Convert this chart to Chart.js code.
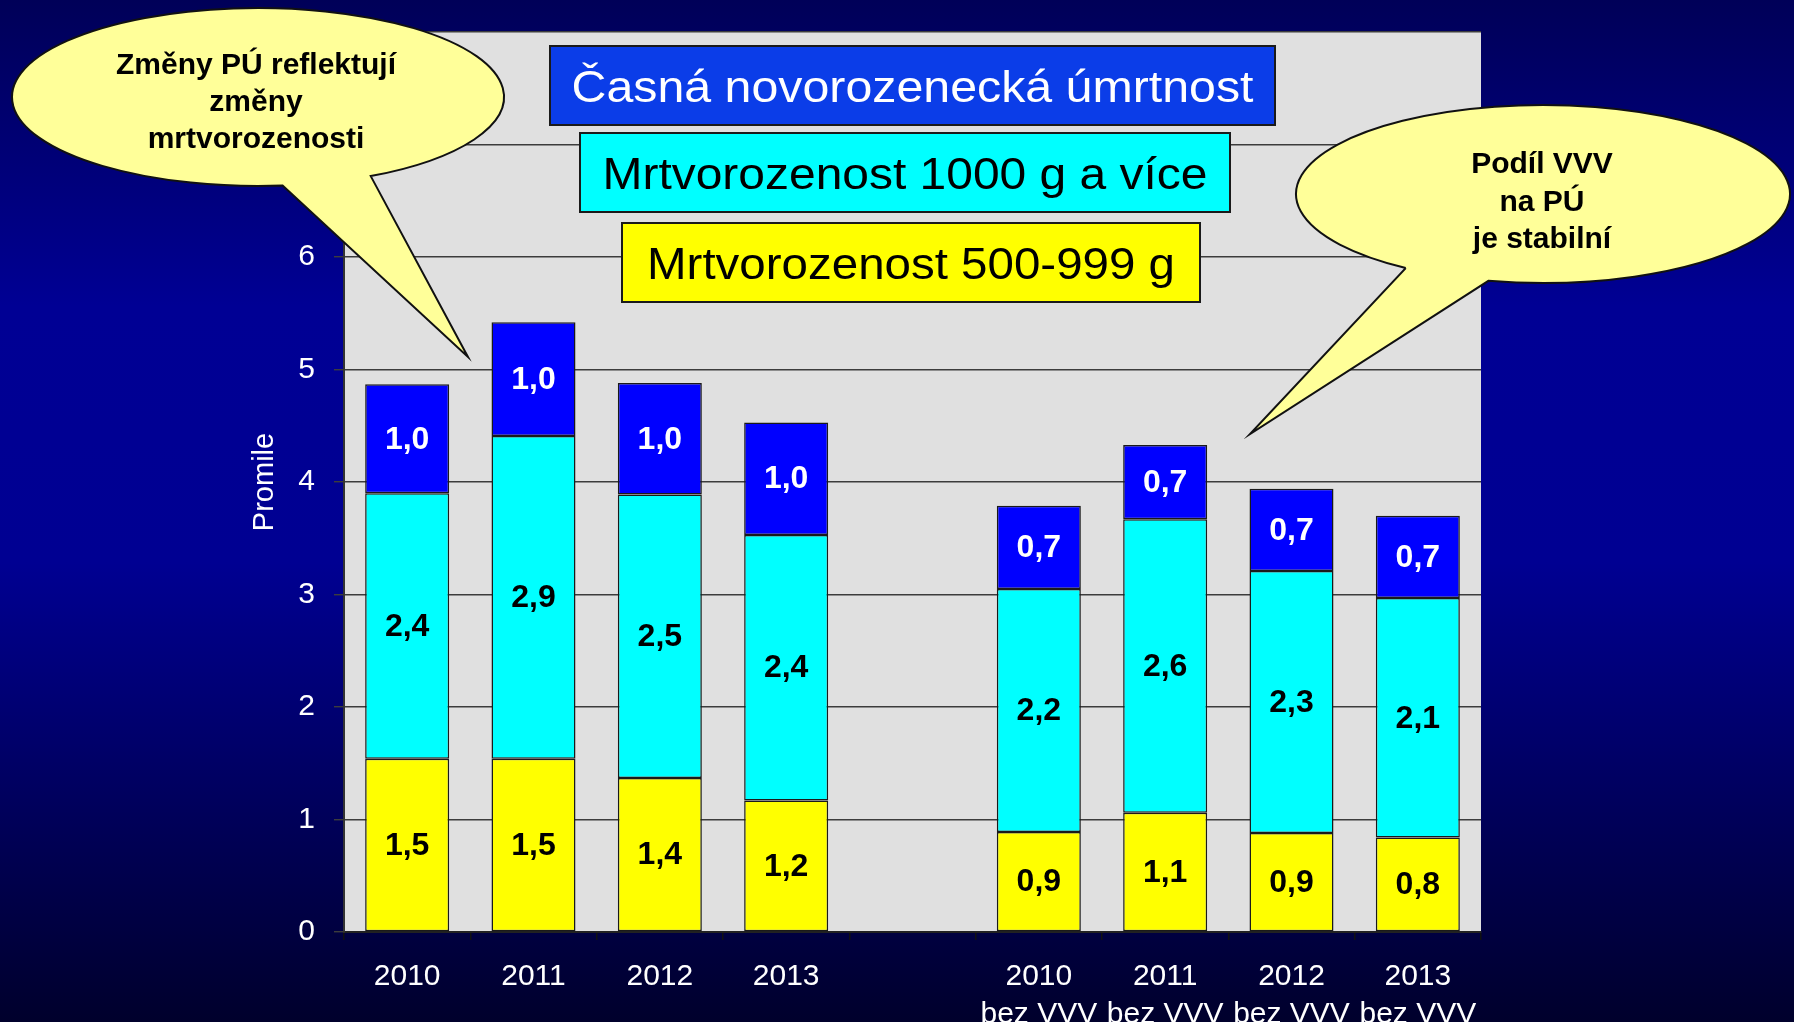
<!DOCTYPE html>
<html>
<head>
<meta charset="utf-8">
<script src="https://cdn.jsdelivr.net/npm/chart.js@4/dist/chart.umd.min.js"></script>
<style>
html,body{margin:0;padding:0;overflow:hidden;background:#000060;}
canvas{display:block;}
</style>
</head>
<body>
<canvas id="c" width="1794" height="1022"></canvas>
<script>
// ---- data ----
const categories = [['2010'], ['2011'], ['2012'], ['2013'], [''], ['2010', 'bez VVV'], ['2011', 'bez VVV'], ['2012', 'bez VVV'], ['2013', 'bez VVV']];
const seriesNames = ['Mrtvorozenost 500-999 g', 'Mrtvorozenost 1000 g a více', 'Časná novorozenecká úmrtnost'];
const still500to999 = [1.54, 1.54, 1.37, 1.17, null, 0.89, 1.06, 0.88, 0.84];
const still1000plus = [2.36, 2.87, 2.52, 2.36, null, 2.16, 2.61, 2.33, 2.13];
const earlyNeonatal = [0.97, 1.01, 0.99, 1.00, null, 0.74, 0.66, 0.73, 0.73];
const yTickMax = 6;
const yAxisTitle = 'Promile';
const calloutLeft = ['Změny PÚ reflektují', 'změny', 'mrtvorozenosti'];
const calloutRight = ['Podíl VVV', 'na PÚ', 'je stabilní'];

const FONT = "'Liberation Sans', Arial, sans-serif";

const bgPlugin = {
  id: 'bg',
  beforeDraw(chart) {
    const ctx = chart.ctx, a = chart.chartArea;
    const g = ctx.createLinearGradient(0, 0, 0, chart.height);
    g.addColorStop(0, '#000058');
    g.addColorStop(0.3, '#000094');
    g.addColorStop(0.55, '#000092');
    g.addColorStop(1, '#00002c');
    ctx.save();
    ctx.fillStyle = g;
    ctx.fillRect(0, 0, chart.width, chart.height);
    ctx.fillStyle = '#e0e0e0';
    ctx.fillRect(a.left, a.top, a.right - a.left, a.bottom - a.top);
    ctx.restore();
  }
};

const labelPlugin = {
  id: 'segLabels',
  afterDatasetsDraw(chart) {
    const ctx = chart.ctx;
    ctx.save();
    ctx.font = 'bold 32px ' + FONT;
    ctx.textAlign = 'center';
    ctx.textBaseline = 'middle';
    chart.data.datasets.forEach((ds, i) => {
      const meta = chart.getDatasetMeta(i);
      meta.data.forEach((bar, j) => {
        const v = ds.data[j];
        if (v === null || v === undefined) return;
        ctx.fillStyle = ds.labelColor;
        ctx.fillText(v.toFixed(1).replace('.', ','), bar.x, (bar.y + bar.base) / 2 + 1);
      });
    });
    ctx.restore();
  }
};

function fitText(ctx, text, cx, baseline, width) {
  const w = ctx.measureText(text).width;
  ctx.save();
  ctx.translate(cx, baseline);
  ctx.scale(width / w, 1);
  ctx.textAlign = 'center';
  ctx.textBaseline = 'alphabetic';
  ctx.fillText(text, 0, 0);
  ctx.restore();
}

function drawBubble(ctx, b) {
  const pa = Math.atan2((b.base[0][1] - b.cy) / b.ry, (b.base[0][0] - b.cx) / b.rx);
  const pb = Math.atan2((b.base[1][1] - b.cy) / b.ry, (b.base[1][0] - b.cx) / b.rx);
  const t1 = Math.min(pa, pb), t2 = Math.max(pa, pb);
  ctx.save();
  ctx.beginPath();
  ctx.ellipse(b.cx, b.cy, b.rx, b.ry, 0, t2, t1 + 2 * Math.PI, false);
  ctx.lineTo(b.tip[0], b.tip[1]);
  ctx.lineTo(b.cx + b.rx * Math.cos(t2), b.cy + b.ry * Math.sin(t2));
  ctx.closePath();
  ctx.fillStyle = '#ffff99';
  ctx.fill();
  ctx.lineWidth = 2;
  ctx.strokeStyle = '#111';
  ctx.lineJoin = 'miter';
  ctx.stroke();
  ctx.fillStyle = '#000';
  ctx.font = 'bold 30px ' + FONT;
  ctx.textAlign = 'center';
  ctx.textBaseline = 'alphabetic';
  b.lines.forEach((t, k) => ctx.fillText(t, b.tx, b.ty[k]));
  ctx.restore();
}

const overlayPlugin = {
  id: 'overlay',
  afterDraw(chart) {
    const ctx = chart.ctx;
    const ds = chart.data.datasets;
    const boxes = [
      {ds: 2, fill: '#0b3de8', x: 550, y: 46, w: 725, h: 79, tw: 682},
      {ds: 1, fill: '#00ffff', x: 580, y: 133, w: 650, h: 79, tw: 605},
      {ds: 0, fill: '#ffff00', x: 622, y: 223, w: 578, h: 79, tw: 528}
    ];
    ctx.save();
    boxes.forEach(bx => {
      ctx.fillStyle = bx.fill;
      ctx.fillRect(bx.x, bx.y, bx.w, bx.h);
      ctx.lineWidth = 2;
      ctx.strokeStyle = '#1a1a1a';
      ctx.strokeRect(bx.x, bx.y, bx.w, bx.h);
      ctx.font = '44px ' + FONT;
      ctx.fillStyle = ds[bx.ds].labelColor;
      fitText(ctx, ds[bx.ds].label, bx.x + bx.w / 2, bx.y + bx.h / 2 + 16, bx.tw);
    });
    ctx.restore();
    drawBubble(ctx, {cx: 258, cy: 97, rx: 246, ry: 89, base: [[283, 187], [372, 177]], tip: [468, 357],
      lines: calloutLeft, tx: 256, ty: [74, 111, 148]});
    drawBubble(ctx, {cx: 1543, cy: 194, rx: 247, ry: 89, base: [[1402, 270], [1487, 283]], tip: [1250, 434],
      lines: calloutRight, tx: 1542, ty: [173, 211, 248]});
  }
};

const common = {borderColor: '#1a1a1a', borderWidth: 1.5, borderSkipped: false, barPercentage: 0.665, categoryPercentage: 1.0};

new Chart(document.getElementById('c'), {
  type: 'bar',
  data: {
    labels: categories,
    datasets: [
      Object.assign({label: seriesNames[0], data: still500to999, backgroundColor: '#ffff00', labelColor: '#000'}, common),
      Object.assign({label: seriesNames[1], data: still1000plus, backgroundColor: '#00ffff', labelColor: '#000'}, common),
      Object.assign({label: seriesNames[2], data: earlyNeonatal, backgroundColor: '#0000ff', labelColor: '#fff'}, common)
    ]
  },
  options: {
    responsive: false,
    devicePixelRatio: 1,
    animation: false,
    layout: {padding: {top: 32, right: 313, left: 0, bottom: 0}},
    plugins: {legend: {display: false}, tooltip: {enabled: false}},
    scales: {
      x: {
        stacked: true,
        grid: {display: true, drawOnChartArea: false, drawTicks: true, tickLength: 8, offset: true, color: '#111', lineWidth: 1.5},
        border: {display: true, color: '#222', width: 2},
        ticks: {color: '#ffffff', font: {family: FONT, size: 30, lineHeight: 1.25}, padding: 18, maxRotation: 0, autoSkip: false},
        afterFit(s) { s.height = 90; s.paddingLeft = 0; s.paddingRight = 0; }
      },
      y: {
        stacked: true,
        min: 0, max: 8,
        grid: {color: '#3c3c3c', lineWidth: 1.4, tickLength: 10},
        border: {display: true, color: '#333', width: 2},
        ticks: {stepSize: 1, color: '#ffffff', font: {family: FONT, size: 30}, padding: 19,
          callback: v => (v <= yTickMax ? String(v) : '')},
        title: {display: true, text: yAxisTitle, color: '#ffffff', font: {family: FONT, size: 29}, padding: {top: 248, bottom: 0}},
        afterFit(s) { s.width = 344; s.paddingTop = 0; s.paddingBottom = 0; }
      }
    }
  },
  plugins: [bgPlugin, labelPlugin, overlayPlugin]
});
</script>
</body>
</html>
